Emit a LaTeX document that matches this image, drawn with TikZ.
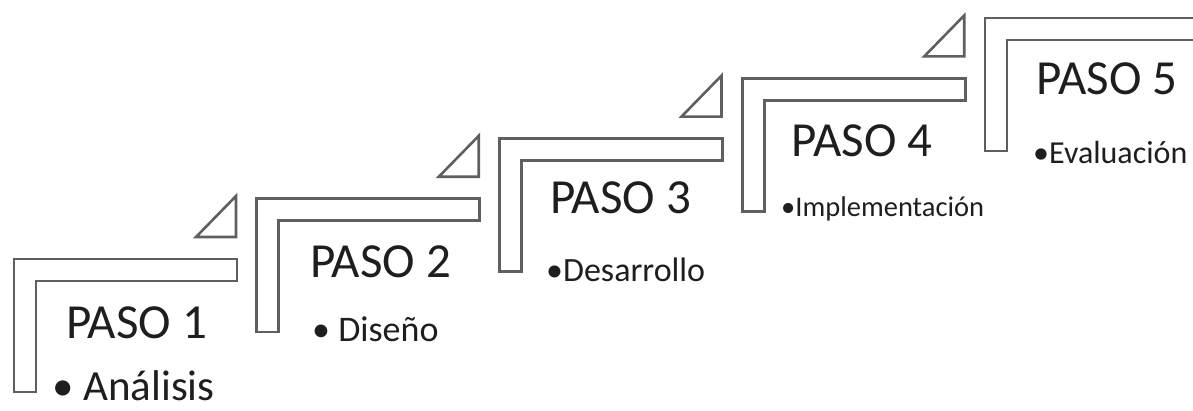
\documentclass[tikz,border=0pt]{standalone}
\usepackage{fontspec}
\setmainfont{Carlito}
\definecolor{linegray}{RGB}{95,95,95}
\definecolor{textgray}{RGB}{30,30,30}
\begin{document}
\begin{tikzpicture}[x=1pt,y=-1pt,
  stepline/.style={draw=linegray, line width=2.6pt, line join=miter},
  pasolabel/.style={anchor=base west, inner sep=0pt, text=textgray, font=\fontsize{49}{49}\selectfont},
  itemlabel/.style={anchor=base west, inner sep=0pt, text=textgray}]
\useasboundingbox (0,0) rectangle (1193,411);
\clip (0,0) rectangle (1193,411);
\foreach \i in {0,...,4}{
  \pgfmathsetmacro\X{14+242.75*\i}
  \pgfmathsetmacro\Y{259-60.2*\i}
  \draw[stepline] (\X,\Y) -- ++(223,0) -- ++(0,22) -- ++(-201,0) -- ++(0,111) -- ++(-22,0) -- cycle;
  \draw[stepline] (\X+222,\Y-22) -- ++(0,-41) -- ++(-40,41) -- cycle;
}
\node[pasolabel] (p1) at (66,338.3) {PASO 1};
\node[pasolabel] (p2) at (310,277.3) {PASO 2};
\node[pasolabel] (p3) at (550,213.3) {PASO 3};
\node[pasolabel] (p4) at (791.5,156.7) {PASO 4};
\node[pasolabel] (p5) at (1036.5,95) {PASO 5};
\node[itemlabel, font=\fontsize{43}{43}\selectfont] (i1) at (52,400) {• Análisis};
\node[itemlabel, font=\fontsize{36}{36}\selectfont] (i2) at (312,341.7) {• Diseño};
\node[itemlabel, font=\fontsize{34}{34}\selectfont] (i3) at (546,281.7) {•Desarrollo};
\node[itemlabel, font=\fontsize{28.5}{28.5}\selectfont] (i4) at (781,216.7) {•Implementación};
\node[itemlabel, font=\fontsize{32}{32}\selectfont] (i5) at (1033,163.3) {•Evaluación};
\end{tikzpicture}
\end{document}
